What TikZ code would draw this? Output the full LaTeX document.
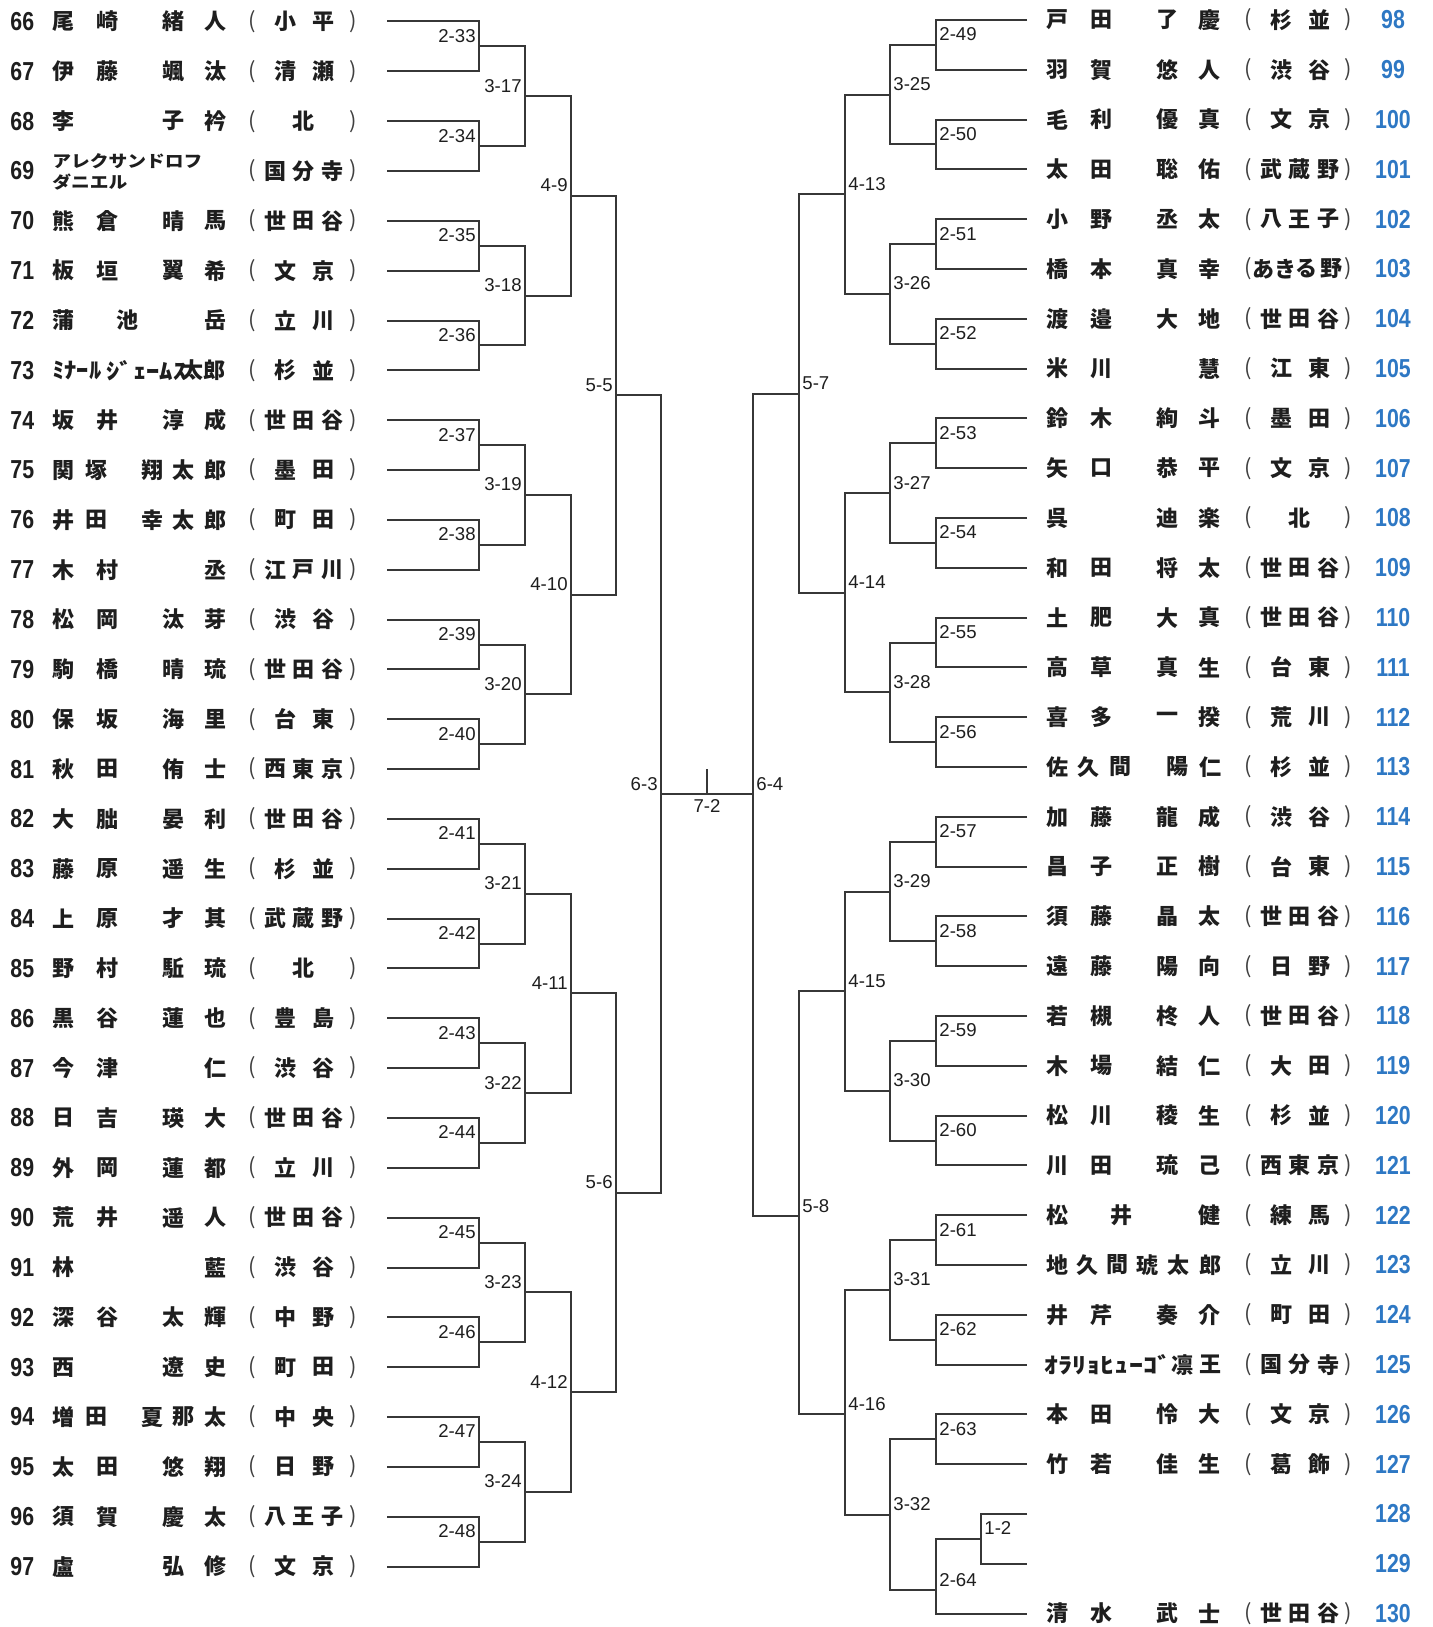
\documentclass[tikz,border=0pt]{standalone}
\usepackage{fontspec}
\usepackage{graphicx}
\usetikzlibrary{calc}
\newfontfamily\jp{Noto Sans CJK JP}
\newfontfamily\numfont[FakeStretch=0.82]{Liberation Sans}
\newfontfamily\labfont{Liberation Sans}
\definecolor{numblue}{RGB}{46,120,196}
\definecolor{lncol}{RGB}{55,55,55}
\definecolor{txt}{RGB}{30,30,30}

\newcommand\off{0}
\newcommand\doff{0}
\newcommand\curnum{0}
\newcommand\ry{0}
\newcommand\putch[3]{\node[nm] (#1) at ({#2+\off},\ry) {#3};}
\newcommand\putd[3]{\node[nm] (#1) at ({#2+\doff},\ry) {#3};}
% name patterns
\newcommand\nA[4]{\putch{n\curnum a}{63}{#1}\putch{n\curnum b}{107}{#2}\putch{n\curnum c}{173}{#3}\putch{n\curnum d}{215}{#4}}
\newcommand\nB[3]{\putch{n\curnum a}{63}{#1}\putch{n\curnum c}{173}{#2}\putch{n\curnum d}{215}{#3}}
\newcommand\nC[3]{\putch{n\curnum a}{63}{#1}\putch{n\curnum b}{107}{#2}\putch{n\curnum d}{215}{#3}}
\newcommand\nD[2]{\putch{n\curnum a}{63}{#1}\putch{n\curnum d}{215}{#2}}
\newcommand\nE[5]{\putch{n\curnum a}{63}{#1}\putch{n\curnum b}{96}{#2}\putch{n\curnum c}{152}{#3}\putch{n\curnum d}{183}{#4}\putch{n\curnum e}{215}{#5}}
\newcommand\nF[3]{\putch{n\curnum a}{63}{#1}\putch{n\curnum b}{127}{#2}\putch{n\curnum d}{215}{#3}}
% district patterns
\newcommand\dA[1]{\putd{d\curnum a}{303}{#1}}
\newcommand\dB[2]{\putd{d\curnum a}{285}{#1}\putd{d\curnum b}{323}{#2}}
\newcommand\dC[3]{\putd{d\curnum a}{275}{#1}\putd{d\curnum b}{303}{#2}\putd{d\curnum c}{332}{#3}}
% rows
\newcommand\lrow[2]{\renewcommand\off{0}\renewcommand\doff{0}\renewcommand\curnum{#1}%
  \pgfmathsetmacro\ry{21.5+49.84*#2}%
  \node[numL] (num#1) at (10,\ry) {#1};%
  \node[par] (po#1) at (252,\ry) {(};\node[par] (pc#1) at (353,\ry) {)};}
\newcommand\rrow[2]{\renewcommand\off{994}\renewcommand\doff{996}\renewcommand\curnum{#1}%
  \pgfmathsetmacro\ry{20+49.8*#2}%
  \node[numR] (num#1) at (1393,\ry) {#1};%
  \node[par] (po#1) at (1248,\ry) {(};\node[par] (pc#1) at (1348,\ry) {)};}
\newcommand\rnum[2]{\pgfmathsetmacro\ry{20+49.8*#2}\node[numR] (num#1) at (1393,\ry) {#1};}
% right match helper
\newcommand\rmatch[4]{\draw[brk] (#2) -| (#1) |- (#3);\node[lblR] (l#1) at ([xshift=1.5pt,yshift=2pt]#1) {#4};}

\begin{document}
\begin{tikzpicture}[x=0.5pt,y=-0.5pt,
  nm/.style={font=\jp\bfseries\fontsize{11}{11}\selectfont, inner sep=0pt, text=txt},
  par/.style={font=\jp\fontsize{11}{11}\selectfont, inner sep=0pt, text=txt!85},
  kana/.style={font=\jp\bfseries\fontsize{8.3}{9}\selectfont, inner sep=0pt, text=txt, anchor=west},
  numL/.style={font=\numfont\bfseries\fontsize{13}{13}\selectfont, inner sep=0pt, anchor=west, text=txt},
  numR/.style={numL, anchor=center, text=numblue},
  lbl/.style={font=\labfont\fontsize{9.3}{10}\selectfont, inner sep=0pt, text=txt},
  lblL/.style={lbl, anchor=base east},
  lblR/.style={lbl, anchor=base west},
  brk/.style={draw=lncol, line width=1pt}]
\fill[white] (0,0) rectangle (1432,1627);
\useasboundingbox (0,0) rectangle (1432,1627);

% ---------------- left bracket ----------------
\foreach \i in {0,...,31}{\pgfmathsetmacro\yy{21.5+49.84*\i}\coordinate (L0-\i) at (387,\yy);}
\foreach \k/\dx/\base/\nn in {1/92/33/15,2/46/17/7,3/46/9/3,4/45/5/1,5/45/3/0}{
  \pgfmathtruncatemacro\km{\k-1}
  \pgfmathtruncatemacro\rd{\k+1}
  \foreach \j in {0,...,\nn}{
    \pgfmathtruncatemacro\ia{2*\j}
    \pgfmathtruncatemacro\ib{2*\j+1}
    \pgfmathtruncatemacro\mn{\base+\j}
    \coordinate (L\k-\j) at ($(L\km-\ia)!0.5!(L\km-\ib)+(\dx,0)$);
    \draw[brk] (L\km-\ia) -| (L\k-\j) |- (L\km-\ib);
    \node[lblL] (lL\k-\j) at ([xshift=-1.5pt,yshift=2pt]L\k-\j) {\rd-\mn};
  }
}

% ---------------- right bracket ----------------
\foreach \i in {0,...,32}{\pgfmathsetmacro\yy{20+49.8*\i}\coordinate (R0-\i) at (1027,\yy);}
\foreach \j in {0,...,14}{
  \pgfmathtruncatemacro\ia{2*\j}
  \pgfmathtruncatemacro\ib{2*\j+1}
  \pgfmathtruncatemacro\mn{49+\j}
  \coordinate (R1-\j) at ($(R0-\ia)!0.5!(R0-\ib)+(-91,0)$);
  \draw[brk] (R0-\ia) -| (R1-\j) |- (R0-\ib);
  \node[lblR] (lR1-\j) at ([xshift=1.5pt,yshift=2pt]R1-\j) {2-\mn};
}
\coordinate (R12) at ($(R0-30)!0.5!(R0-31)+(-46,0)$);
\rmatch{R12}{R0-30}{R0-31}{1-2}
\coordinate (R1-15) at (936,1590);
\rmatch{R1-15}{R12}{R0-32}{2-64}
\foreach \j in {0,...,7}{
  \pgfmathtruncatemacro\ia{2*\j}
  \pgfmathtruncatemacro\ib{2*\j+1}
  \pgfmathtruncatemacro\mn{25+\j}
  \coordinate (R2-\j) at ($(R1-\ia)!0.5!(R1-\ib)+(-46,0)$);
  \rmatch{R2-\j}{R1-\ia}{R1-\ib}{3-\mn}
}
\foreach \j in {0,...,2}{
  \pgfmathtruncatemacro\ia{2*\j}
  \pgfmathtruncatemacro\ib{2*\j+1}
  \pgfmathtruncatemacro\mn{13+\j}
  \coordinate (R3-\j) at ($(R2-\ia)!0.5!(R2-\ib)+(-45,0)$);
  \rmatch{R3-\j}{R2-\ia}{R2-\ib}{4-\mn}
}
\coordinate (R3-3) at (845,1414);
\rmatch{R3-3}{R2-6}{R2-7}{4-16}
\coordinate (R4-0) at ($(R3-0)!0.5!(R3-1)+(-46,0)$);
\rmatch{R4-0}{R3-0}{R3-1}{5-7}
\coordinate (R4-1) at (799,1216);
\rmatch{R4-1}{R3-2}{R3-3}{5-8}
\coordinate (R5-0) at (753,794);
\rmatch{R5-0}{R4-0}{R4-1}{6-4}

% ---------------- final ----------------
\coordinate (F) at (L5-0 -| R5-0);
\draw[brk] (L5-0) -- (F);
\coordinate (T0) at ($(L5-0)!0.5!(F)$);
\coordinate (T1) at ($(T0)+(0,-25)$);
\draw[brk] (T0) -- (T1);
\node[lbl, anchor=north] (l72) at ([yshift=-2.5pt]T0) {7-2};

% ---------------- left entries ----------------
\lrow{66}{0}\nA{尾}{崎}{緒}{人}\dB{小}{平}
\lrow{67}{1}\nA{伊}{藤}{颯}{汰}\dB{清}{瀬}
\lrow{68}{2}\nB{李}{子}{衿}\dA{北}
\lrow{69}{3}\dC{国}{分}{寺}
\node[kana] (n69a) at (52,\ry-10) {\resizebox{75pt}{\height}{アレクサンドロフ}};
\node[kana] (n69b) at (52,\ry+11) {\resizebox{37.5pt}{\height}{ダニエル}};
\lrow{70}{4}\nA{熊}{倉}{晴}{馬}\dC{世}{田}{谷}
\lrow{71}{5}\nA{板}{垣}{翼}{希}\dB{文}{京}
\lrow{72}{6}\nF{蒲}{池}{岳}\dB{立}{川}
\lrow{73}{7}\dB{杉}{並}
\node[nm,anchor=west] (n73a) at (52,\ry) {\resizebox{24.5pt}{\height}{ﾐﾅｰﾙ}};
\node[nm,anchor=west] (n73b) at (106,\ry) {\resizebox{40pt}{\height}{ｼﾞｪｰﾑｽ}};
\node[nm,anchor=east] (n73c) at (226,\ry) {太郎};
\lrow{74}{8}\nA{坂}{井}{淳}{成}\dC{世}{田}{谷}
\lrow{75}{9}\nE{関}{塚}{翔}{太}{郎}\dB{墨}{田}
\lrow{76}{10}\nE{井}{田}{幸}{太}{郎}\dB{町}{田}
\lrow{77}{11}\nC{木}{村}{丞}\dC{江}{戸}{川}
\lrow{78}{12}\nA{松}{岡}{汰}{芽}\dB{渋}{谷}
\lrow{79}{13}\nA{駒}{橋}{晴}{琉}\dC{世}{田}{谷}
\lrow{80}{14}\nA{保}{坂}{海}{里}\dB{台}{東}
\lrow{81}{15}\nA{秋}{田}{侑}{士}\dC{西}{東}{京}
\lrow{82}{16}\nA{大}{朏}{晏}{利}\dC{世}{田}{谷}
\lrow{83}{17}\nA{藤}{原}{遥}{生}\dB{杉}{並}
\lrow{84}{18}\nA{上}{原}{才}{其}\dC{武}{蔵}{野}
\lrow{85}{19}\nA{野}{村}{駈}{琉}\dA{北}
\lrow{86}{20}\nA{黒}{谷}{蓮}{也}\dB{豊}{島}
\lrow{87}{21}\nC{今}{津}{仁}\dB{渋}{谷}
\lrow{88}{22}\nA{日}{吉}{瑛}{大}\dC{世}{田}{谷}
\lrow{89}{23}\nA{外}{岡}{蓮}{都}\dB{立}{川}
\lrow{90}{24}\nA{荒}{井}{遥}{人}\dC{世}{田}{谷}
\lrow{91}{25}\nD{林}{藍}\dB{渋}{谷}
\lrow{92}{26}\nA{深}{谷}{太}{輝}\dB{中}{野}
\lrow{93}{27}\nB{西}{遼}{史}\dB{町}{田}
\lrow{94}{28}\nE{増}{田}{夏}{那}{太}\dB{中}{央}
\lrow{95}{29}\nA{太}{田}{悠}{翔}\dB{日}{野}
\lrow{96}{30}\nA{須}{賀}{慶}{太}\dC{八}{王}{子}
\lrow{97}{31}\nB{盧}{弘}{修}\dB{文}{京}

% ---------------- right entries ----------------
\rrow{98}{0}\nA{戸}{田}{了}{慶}\dB{杉}{並}
\rrow{99}{1}\nA{羽}{賀}{悠}{人}\dB{渋}{谷}
\rrow{100}{2}\nA{毛}{利}{優}{真}\dB{文}{京}
\rrow{101}{3}\nA{太}{田}{聡}{佑}\dC{武}{蔵}{野}
\rrow{102}{4}\nA{小}{野}{丞}{太}\dC{八}{王}{子}
\rrow{103}{5}\nA{橋}{本}{真}{幸}
\node[nm] (d103a) at (1263,\ry) {あ};
\node[nm] (d103b) at (1285,\ry) {き};
\node[nm] (d103c) at (1306,\ry) {る};
\node[nm] (d103d) at (1331,\ry) {野};
\rrow{104}{6}\nA{渡}{邉}{大}{地}\dC{世}{田}{谷}
\rrow{105}{7}\nC{米}{川}{慧}\dB{江}{東}
\rrow{106}{8}\nA{鈴}{木}{絢}{斗}\dB{墨}{田}
\rrow{107}{9}\nA{矢}{口}{恭}{平}\dB{文}{京}
\rrow{108}{10}\nB{呉}{迪}{楽}\dA{北}
\rrow{109}{11}\nA{和}{田}{将}{太}\dC{世}{田}{谷}
\rrow{110}{12}\nA{土}{肥}{大}{真}\dC{世}{田}{谷}
\rrow{111}{13}\nA{高}{草}{真}{生}\dB{台}{東}
\rrow{112}{14}\nA{喜}{多}{一}{揆}\dB{荒}{川}
\rrow{113}{15}\dB{杉}{並}
\putch{n113a}{63}{佐}\putch{n113b}{94}{久}\putch{n113c}{126}{間}\putch{n113d}{183}{陽}\putch{n113e}{216}{仁}
\rrow{114}{16}\nA{加}{藤}{龍}{成}\dB{渋}{谷}
\rrow{115}{17}\nA{昌}{子}{正}{樹}\dB{台}{東}
\rrow{116}{18}\nA{須}{藤}{晶}{太}\dC{世}{田}{谷}
\rrow{117}{19}\nA{遠}{藤}{陽}{向}\dB{日}{野}
\rrow{118}{20}\nA{若}{槻}{柊}{人}\dC{世}{田}{谷}
\rrow{119}{21}\nA{木}{場}{結}{仁}\dB{大}{田}
\rrow{120}{22}\nA{松}{川}{稜}{生}\dB{杉}{並}
\rrow{121}{23}\nA{川}{田}{琉}{己}\dC{西}{東}{京}
\rrow{122}{24}\nF{松}{井}{健}\dB{練}{馬}
\rrow{123}{25}\dB{立}{川}
\putch{n123a}{63}{地}\putch{n123b}{93}{久}\putch{n123c}{123}{間}\putch{n123d}{153}{琥}\putch{n123e}{184}{太}\putch{n123f}{216}{郎}
\rrow{124}{26}\nA{井}{芹}{奏}{介}\dB{町}{田}
\rrow{125}{27}\dC{国}{分}{寺}
\node[nm,anchor=west] (n125a) at (1044,\ry) {\resizebox{63.5pt}{\height}{ｵﾗﾘｮﾋｭｰｺﾞ}};
\node[nm] (n125b) at (1182,\ry) {凛};
\node[nm] (n125c) at (1210,\ry) {王};
\rrow{126}{28}\nA{本}{田}{怜}{大}\dB{文}{京}
\rrow{127}{29}\nA{竹}{若}{佳}{生}\dB{葛}{飾}
\rnum{128}{30}
\rnum{129}{31}
\rrow{130}{32}\nA{清}{水}{武}{士}\dC{世}{田}{谷}
\end{tikzpicture}
\end{document}
